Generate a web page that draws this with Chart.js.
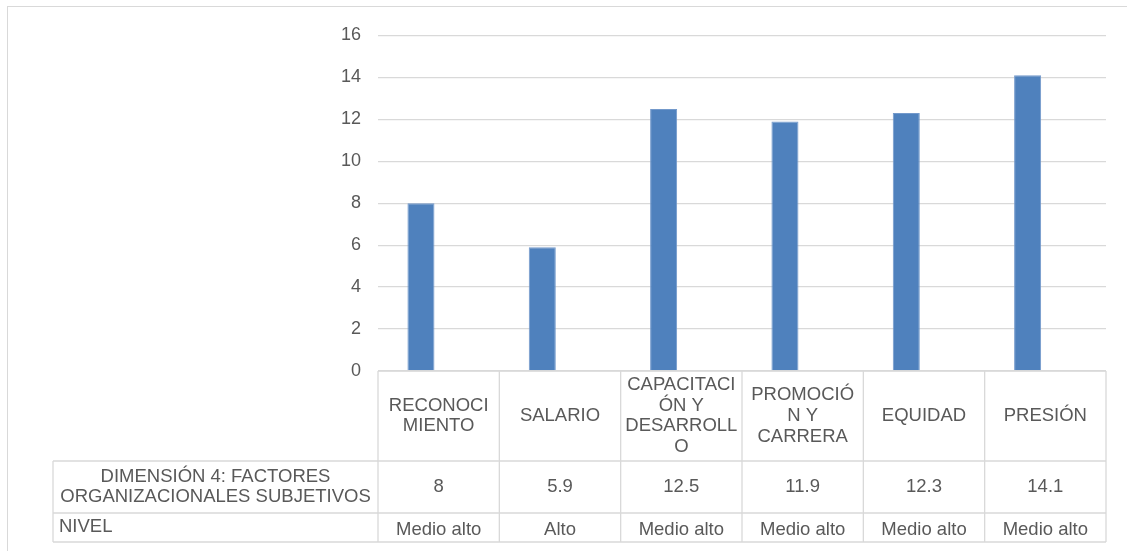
<!DOCTYPE html>
<html>
<head>
<meta charset="utf-8">
<script src="https://cdn.jsdelivr.net/npm/chart.js@4.4.1/dist/chart.umd.min.js"></script>
<style>
  html, body { margin: 0; padding: 0; background: #ffffff; }
  #wrap { width: 1127px; height: 551px; }
</style>
</head>
<body>
<div id="wrap"><canvas id="grafico" width="1127" height="551"></canvas></div>
<script>
// Categorías (cada elemento: líneas de texto tal como se muestran en la tabla)
const categorias = [
  ['RECONOCI', 'MIENTO'],
  ['SALARIO'],
  ['CAPACITACI', 'ÓN Y', 'DESARROLL', 'O'],
  ['PROMOCIÓ', 'N Y', 'CARRERA'],
  ['EQUIDAD'],
  ['PRESIÓN']
];
// Puntaje de la dimensión por factor
const puntajes = [8, 5.9, 12.5, 11.9, 12.3, 14.1];
// Nivel cualitativo por factor
const niveles = ['Medio alto', 'Alto', 'Medio alto', 'Medio alto', 'Medio alto', 'Medio alto'];
// Nombres de las filas de la tabla de datos
const nombreSerie = ['DIMENSIÓN 4: FACTORES', 'ORGANIZACIONALES SUBJETIVOS'];
const nombreNivel = 'NIVEL';
// Eje vertical
const yMin = 0;
const yMax = 16;
const yPaso = 2;

const FUENTE = '"Liberation Sans", Arial, sans-serif';
const TEXTO = '#595959';
const LINEA = '#d9d9d9';

// Marco exterior del gráfico
const marco = {
  id: 'marco',
  beforeDraw(chart) {
    const ctx = chart.ctx;
    ctx.save();
    ctx.strokeStyle = LINEA;
    ctx.lineWidth = 1;
    ctx.strokeRect(7.5, 6.5, chart.width + 10, chart.height + 10);
    ctx.restore();
  }
};

// Tabla de datos bajo el eje de categorías
const tablaDatos = {
  id: 'tablaDatos',
  afterDraw(chart) {
    const ctx = chart.ctx;
    const x = chart.scales.x;
    const area = chart.chartArea;
    const n = categorias.length;
    const ancho = (x.right - x.left) / n;
    const y0 = area.bottom;          // parte superior de la fila de categorías
    const y1 = y0 + 90;              // fila de valores
    const y2 = y1 + 52;              // fila de nivel
    const y3 = y2 + 29;              // borde inferior
    const xEtiqueta = 53;            // borde izquierdo de la columna de nombres
    const altoLinea = 20.7;

    ctx.save();
    ctx.strokeStyle = LINEA;
    ctx.lineWidth = 1.3;
    const linea = (ax, ay, bx, by) => {
      ctx.beginPath();
      ctx.moveTo(ax, ay);
      ctx.lineTo(bx, by);
      ctx.stroke();
    };
    linea(x.left, y0, x.right, y0);
    linea(xEtiqueta, y1, x.right, y1);
    linea(xEtiqueta, y2, x.right, y2);
    linea(xEtiqueta, y3, x.right, y3);
    linea(xEtiqueta, y1, xEtiqueta, y3);
    for (let i = 0; i <= n; i++) {
      const bx = x.left + i * ancho;
      linea(bx, y0, bx, y3);
    }

    ctx.fillStyle = TEXTO;
    ctx.font = '18.5px ' + FUENTE;
    ctx.textBaseline = 'middle';
    ctx.textAlign = 'center';
    const bloque = (lineas, cx, cy) => {
      const inicio = cy - (lineas.length - 1) * altoLinea / 2;
      lineas.forEach((t, k) => ctx.fillText(t, cx, inicio + k * altoLinea));
    };

    for (let i = 0; i < n; i++) {
      const cx = x.getPixelForValue(i);
      bloque(categorias[i], cx, (y0 + y1) / 2);
      bloque([String(puntajes[i])], cx, (y1 + y2) / 2);
      bloque([niveles[i]], cx, (y2 + y3) / 2 + 2.5);
    }
    bloque(nombreSerie, (xEtiqueta + x.left) / 2, (y1 + y2) / 2);
    ctx.textAlign = 'left';
    ctx.fillText(nombreNivel, xEtiqueta + 6, (y2 + y3) / 2 - 0.5);
    ctx.restore();
  }
};

new Chart(document.getElementById('grafico'), {
  type: 'bar',
  data: {
    labels: categorias,
    datasets: [
      {
        label: nombreSerie.join(' '),
        data: puntajes,
        backgroundColor: '#4f81bd',
        borderColor: '#7399cb',
        borderWidth: 1,
        categoryPercentage: 0.584,
        barPercentage: 0.763
      },
      {
        label: nombreNivel,
        data: [],
        backgroundColor: 'rgba(0,0,0,0)',
        categoryPercentage: 0.584,
        barPercentage: 0.763
      }
    ]
  },
  options: {
    responsive: false,
    animation: false,
    devicePixelRatio: 1,
    layout: { padding: { top: 35.5, right: 21, bottom: 180, left: 0 } },
    plugins: {
      legend: { display: false },
      tooltip: { enabled: false }
    },
    scales: {
      x: {
        display: false
      },
      y: {
        min: yMin,
        max: yMax,
        ticks: {
          stepSize: yPaso,
          color: TEXTO,
          padding: 17,
          font: { family: FUENTE, size: 18 }
        },
        grid: {
          color: LINEA,
          lineWidth: 1.3,
          drawTicks: false
        },
        border: { display: false },
        afterFit(scale) { scale.width = 378; }
      }
    }
  },
  plugins: [marco, tablaDatos]
});
</script>
</body>
</html>
